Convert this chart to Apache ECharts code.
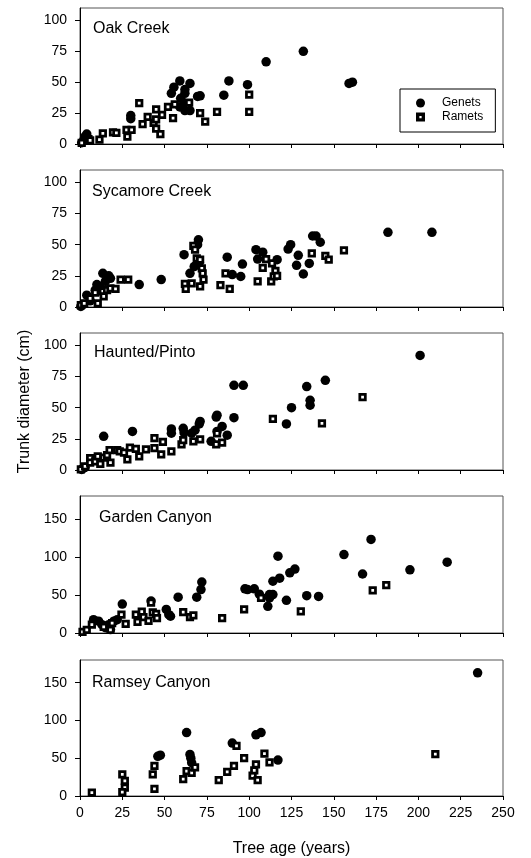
<!DOCTYPE html>
<html>
<head>
<meta charset="utf-8">
<title>Trunk diameter vs tree age</title>
<script src="https://cdn.jsdelivr.net/npm/echarts@6/dist/echarts.min.js"></script>
<style>
  html, body { margin: 0; padding: 0; background: #fff; }
  #chart { width: 531px; height: 858px; }
</style>
</head>
<body>
<div id="chart"></div>
<script>
// site names, top to bottom
const sites = ["Oak Creek", "Sycamore Creek", "Haunted/Pinto", "Garden Canyon", "Ramsey Canyon"];

// [age (years), trunk diameter (cm)]
const oakGenets = [[1,1],[2.5,4],[4,8],[3,6],[30,23],[30,20.5],[54,41],[55.5,46],[59,51],[65,49],[62,44],[62,41],[59.5,37],[61.5,33],[65,27],[69.5,38.5],[71,39],[62,27],[59,30],[85,39.5],[88,51],[99,48],[110,66.5],[132,75],[159,49],[161,50]];
const oakRamets = [[1,1],[5,4],[6,3],[11.5,3.5],[13.5,8.5],[19.5,9.5],[21.5,9],[27.5,11.5],[28,6],[30.5,11.5],[35,33],[37,16],[40,22],[43.5,17],[45,28],[45,20],[45,12.5],[47.5,8],[48.5,23.5],[52,30],[55,21],[56,32],[64.5,33.5],[71,25],[74,18],[81,26],[100,40],[100,26]];

const sycGenets = [[0.5,0.5],[2,2],[4,9.5],[6,5],[9,13.5],[10,18],[11.5,16.5],[13.5,27],[15,20.5],[17,25],[18,23],[35,18],[48,22],[61.5,42],[70,54],[69.5,50],[65,27],[67.5,32.5],[70.5,36],[87,40],[90,26],[95,24.5],[96,34.5],[104,46],[108,44],[105,38.5],[116.5,38],[123,46.5],[124.5,50],[129,41.5],[128,33.5],[132,26.5],[135.5,35],[137.5,57],[139.5,57],[142,52],[182,60],[208,60]];
const sycRamets = [[0.5,1.5],[2.5,3],[6,7],[10.5,3],[9,11.5],[13.5,12.5],[16,13.5],[18,15],[21,14.5],[14,8.5],[24,22],[28.5,22],[62,18.5],[62.5,14.5],[66,19],[67,49],[68,46],[69,39],[71,38],[72,31],[72.5,27],[73,22],[71,16.5],[83,17.5],[88.5,14.5],[86,27],[105,20.5],[110,38.5],[108,31.5],[113,20.5],[114.5,24.5],[115.5,29],[116.5,25],[113.5,35],[137,43],[145,41],[147,38],[156,45.5]];

const hauGenets = [[1,0.5],[2,1.5],[3,2],[14,27],[31,31],[54,33],[54,29.5],[61,33.5],[61.5,30],[66,29.5],[68,32],[71,39],[70.5,37],[77.5,23],[81,44],[80.5,42.5],[81,31],[84,35],[87,28],[91,68],[91,42],[96.5,68],[122,37],[125,50],[134,67],[136,56],[136,52],[145,72],[201,92]];
const hauRamets = [[0.5,0.5],[3,3],[6,9.5],[6,6],[9,7],[10.5,11],[12,5],[14,10],[16,12],[17.5,16],[18,6],[22,16],[23.5,15],[26,14],[28,8.5],[29.5,18],[33,17],[35,11],[39,16.5],[44,25.5],[44,17.5],[48,12.5],[49,22.5],[54,15],[60,20.5],[61,24],[67,23],[71,24.5],[80.5,20.5],[81,29.5],[84,22],[114,41],[143,37.5],[167,58.5]];

const garGenets = [[8,17.5],[11,15.5],[13,11],[15,7],[17,11],[18,4.5],[20,15.5],[22,17.5],[25,38],[42,42],[51,31],[52.5,24],[53.5,22],[58,47],[69,47],[71.5,57],[72,67],[97.5,58],[99,57],[103,58],[106,51],[112,50.5],[114,50.5],[112,46],[111,35],[114,68],[117,101],[118,72],[124,79],[127,84],[122,43],[134,49],[141,48],[156,103],[167,77.5],[172,123],[195,83],[217,93]];
const garRamets = [[1.5,1.5],[4,4],[7,11],[14,8],[18,4],[19,13],[24.5,24],[27,12],[33,24],[34,14.5],[36.5,28],[37.5,21],[40.5,16],[42,40],[43,27],[45,25],[45.5,19.5],[61,27.5],[65,21],[67,23],[84,19.5],[97,31],[107,46],[130.5,28.5],[173,56],[181,63]];

const ramGenets = [[46,52.5],[47.5,54],[63,84],[65,55],[65.5,50],[66,44],[90,70],[104,81],[107,84],[117,47.5],[235,163]];
const ramRamets = [[7,4.5],[25,28.5],[26.5,20],[26.5,11],[25,5],[43,28.5],[44,40],[44,9.5],[61,22.5],[63,33],[66,30.5],[68,38],[82,21],[87,32],[91,40],[92.5,66.5],[97,50],[102,27],[103,34],[104,42],[105,21],[109,56],[112,44.5],[210,55.5]];

// tick labels
const xTicks = [0, 25, 50, 75, 100, 125, 150, 175, 200, 225, 250];
const yTicksSmall = [0, 25, 50, 75, 100];
const yTicksLarge = [0, 50, 100, 150];

const genets = [oakGenets, sycGenets, hauGenets, garGenets, ramGenets];
const ramets = [oakRamets, sycRamets, hauRamets, garRamets, ramRamets];
const yMax = [110, 110, 110, 180, 180];
const yTicks = [yTicksSmall, yTicksSmall, yTicksSmall, yTicksLarge, yTicksLarge];

const font = "'Liberation Sans', Arial, sans-serif";
const gridTops = [8, 170, 333, 496, 660];
const gridHeights = [136, 137, 137, 137, 137];
const titleLeft = [93, 92, 94, 99, 92];
const titleTop = [21, 184, 345, 510, 675];

// ramet marker: black square with a small white centre
const rametStyle = { color: "#fff", borderColor: "#000", borderWidth: 2.75, opacity: 1 };
// same look for the legend icon: filled square with a square hole
const rametIcon = "path://M0,0H8V8H0Z M3,3V5H5V3Z";

const chart = echarts.init(document.getElementById("chart"));

const grids = [], xAxes = [], yAxes = [], series = [], titles = [];
sites.forEach((site, i) => {
  const last = i === sites.length - 1;
  grids.push({
    left: 80, right: 28, top: gridTops[i], height: gridHeights[i],
    show: true, borderColor: "#555", borderWidth: 1, backgroundColor: "transparent"
  });
  xAxes.push({
    gridIndex: i, type: "value", min: 0, max: 250, interval: 25,
    axisLine: { lineStyle: { color: "#000", width: 1 } },
    axisTick: { show: true, length: 4, customValues: xTicks, lineStyle: { color: "#000" } },
    axisLabel: { show: last, color: "#000", fontSize: 14, fontFamily: font, margin: 10, customValues: xTicks },
    splitLine: { show: false },
    name: last ? "Tree age (years)" : "",
    nameLocation: "middle", nameGap: 45,
    nameTextStyle: { color: "#000", fontSize: 16, fontFamily: font }
  });
  yAxes.push({
    gridIndex: i, type: "value", min: 0, max: yMax[i],
    axisLine: { show: true, lineStyle: { color: "#000", width: 1 } },
    axisTick: { show: true, length: 5, customValues: yTicks[i], lineStyle: { color: "#000" } },
    axisLabel: { color: "#000", fontSize: 14, fontFamily: font, margin: 13, customValues: yTicks[i] },
    splitLine: { show: false },
    name: i === 2 ? "Trunk diameter (cm)" : "",
    nameLocation: "middle", nameGap: 44,
    nameTextStyle: { color: "#000", fontSize: 16, fontFamily: font }
  });
  titles.push({
    text: site, left: titleLeft[i], top: titleTop[i], padding: 0,
    textStyle: { color: "#000", fontSize: 16, fontWeight: "normal", fontFamily: font }
  });
  series.push({
    name: "Genets", type: "scatter", xAxisIndex: i, yAxisIndex: i,
    symbol: "circle", symbolSize: 9.5,
    itemStyle: { color: "#000", opacity: 1 },
    data: genets[i]
  });
  series.push({
    name: "Ramets", type: "scatter", xAxisIndex: i, yAxisIndex: i,
    symbol: "rect", symbolSize: 5.5,
    itemStyle: rametStyle,
    data: ramets[i]
  });
});

chart.setOption({
  animation: false,
  backgroundColor: "#fff",
  title: titles,
  legend: {
    orient: "vertical", left: 400, top: 89,
    padding: [8, 12, 9, 16], itemGap: 2,
    itemWidth: 9, itemHeight: 9,
    borderColor: "#000", borderWidth: 1, backgroundColor: "#fff",
    data: [
      { name: "Genets" },
      { name: "Ramets", icon: rametIcon, itemStyle: { color: "#000", borderWidth: 0 } }
    ],
    textStyle: { color: "#000", fontSize: 12, fontFamily: font, padding: [0, 0, 0, 12] }
  },
  grid: grids,
  xAxis: xAxes,
  yAxis: yAxes,
  series: series
});
</script>
</body>
</html>
